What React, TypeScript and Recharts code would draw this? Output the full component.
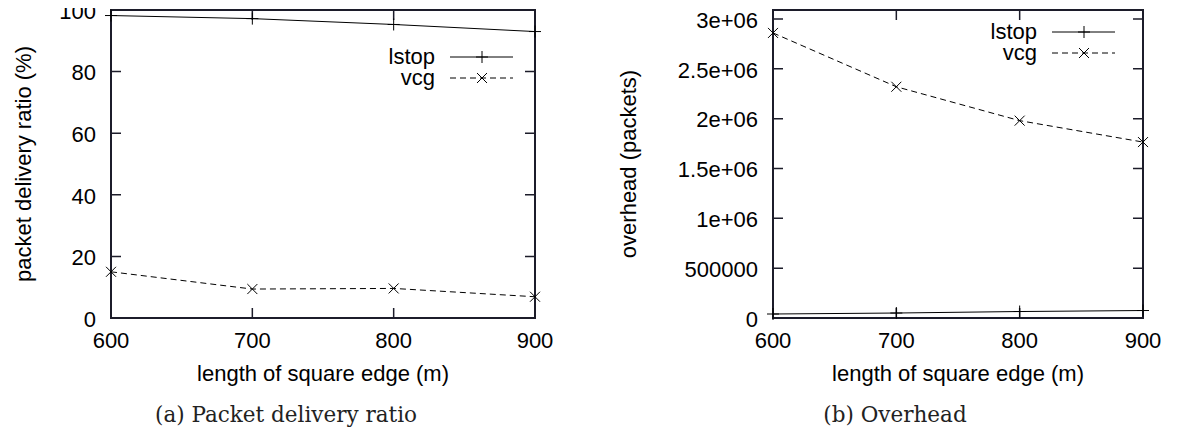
import React from 'react';
import { LineChart, Line, XAxis, YAxis, Customized } from 'recharts';

// ---- data ----
const edgeLengths = [600, 700, 800, 900];
const pdrLstop = [98.2, 97.2, 95.3, 93.0];
const pdrVcg = [15.0, 9.4, 9.6, 6.9];
const overheadLstop = [40000, 50000, 65000, 75000];
const overheadVcg = [2860000, 2320000, 1980000, 1765000];
const pdrTicks = [0, 20, 40, 60, 80, 100];
const overheadTicks = [0, 500000, 1000000, 1500000, 2000000, 2500000, 3000000];
const overheadTickLabels = ['0', '500000', '1e+06', '1.5e+06', '2e+06', '2.5e+06', '3e+06'];
const seriesNames = ['lstop', 'vcg'];
const xTitle = 'length of square edge (m)';
const pdrTitle = 'packet delivery ratio (%)';
const overheadTitle = 'overhead (packets)';
const captions = ['(a) Packet delivery ratio', '(b) Overhead'];

const pdrData = edgeLengths.map((x, i) => ({ x, lstop: pdrLstop[i], vcg: pdrVcg[i] }));
const overheadData = edgeLengths.map((x, i) => ({ x, lstop: overheadLstop[i], vcg: overheadVcg[i] }));

const SANS = '"Liberation Sans", Arial, Helvetica, sans-serif';
const SERIF = '"DejaVu Serif", "Liberation Serif", serif';
const FS = 22;
const TICK_LEN = 10;
const CHART_H = 432;
const X_AXIS_H = 30;
const X_DOMAIN = [600, 900];
const FRAME = '#1c1c2a';

const PlusMark = ({ cx, cy }: { cx: number; cy: number }) => (
  <g>
    <line x1={cx - 6} x2={cx + 6} y1={cy} y2={cy} stroke="#000" strokeWidth={1} />
    <line x1={cx} x2={cx} y1={cy - 6} y2={cy + 6} stroke="#000" strokeWidth={1} />
  </g>
);
const CrossMark = ({ cx, cy }: { cx: number; cy: number }) => (
  <g>
    <line x1={cx - 5} x2={cx + 5} y1={cy - 5} y2={cy + 5} stroke="#000" strokeWidth={1} />
    <line x1={cx - 5} x2={cx + 5} y1={cy + 5} y2={cy - 5} stroke="#000" strokeWidth={1} />
  </g>
);

const plusDot = (p: any) => (p.cx == null ? <g key={`p${p.index}`} /> : <g key={`p${p.index}`}><PlusMark cx={p.cx} cy={p.cy} /></g>);
const crossDot = (p: any) => (p.cx == null ? <g key={`c${p.index}`} /> : <g key={`c${p.index}`}><CrossMark cx={p.cx} cy={p.cy} /></g>);

// frame, mirrored inward ticks, legend and texts drawn on the chart surface
const Overlay = ({ box, yDomain, yTicks, legend, yTitle, titleDist, caption, captionX }: any) => {
  const { left, top, w, h } = box;
  const px = (v: number) => left + ((v - X_DOMAIN[0]) / (X_DOMAIN[1] - X_DOMAIN[0])) * w;
  const py = (v: number) => top + h - ((v - yDomain[0]) / (yDomain[1] - yDomain[0])) * h;
  const [lx, ly] = legend;
  const ytx = left - titleDist;
  const yty = top + h / 2;
  let tickPath = '';
  edgeLengths.forEach((v) => {
    tickPath += `M${px(v)},${top + h}v${-TICK_LEN}M${px(v)},${top}v${TICK_LEN}`;
  });
  yTicks.forEach((v: number) => {
    tickPath += `M${left},${py(v)}h${TICK_LEN}M${left + w},${py(v)}h${-TICK_LEN}`;
  });
  return (
    <g>
      <path d={`M${left},${top}H${left + w}V${top + h}H${left}Z`} fill="none" stroke={FRAME} strokeWidth={2} />
      <path d={tickPath} fill="none" stroke={FRAME} strokeWidth={1.5} />
      <text x={lx} y={ly + 7} textAnchor="end" fontFamily={SANS} fontSize={FS} fill="#000">{seriesNames[0]}</text>
      <line x1={lx + 15} x2={lx + 78} y1={ly} y2={ly} stroke="#000" strokeWidth={1} />
      <PlusMark cx={lx + 47} cy={ly} />
      <text x={lx} y={ly + 21 + 7} textAnchor="end" fontFamily={SANS} fontSize={FS} fill="#000">{seriesNames[1]}</text>
      <line x1={lx + 15} x2={lx + 78} y1={ly + 21} y2={ly + 21} stroke="#000" strokeWidth={1} strokeDasharray="6 4" />
      <CrossMark cx={lx + 47} cy={ly + 21} />
      <text x={ytx} y={yty} transform={`rotate(-90 ${ytx} ${yty})`} textAnchor="middle" dominantBaseline="central" fontFamily={SANS} fontSize={FS} fill="#000">
        {yTitle}
      </text>
      <text x={left + w / 2} y={381} textAnchor="middle" fontFamily={SANS} fontSize={FS} fill="#000">{xTitle}</text>
      <text x={captionX} y={422} textAnchor="middle" fontFamily={SERIF} fontSize={21.5} fill="#222">{caption}</text>
    </g>
  );
};

const BottomTick = (p: any) => (
  <text x={p.x} y={p.y + 14} dy="0.71em" textAnchor="middle" fontFamily={SANS} fontSize={FS} fill="#000">
    {p.payload.value}
  </text>
);
const makeLeftTick = (fmt: (v: number) => string) => (p: any) => (
  <text x={p.x - 15} y={p.y + 1} dy="0.355em" textAnchor="end" fontFamily={SANS} fontSize={FS} fill="#000">
    {fmt(p.payload.value)}
  </text>
);

const fmtOverhead = (v: number) => {
  const i = overheadTicks.indexOf(v);
  return i >= 0 ? overheadTickLabels[i] : String(v);
};

const Panel = ({ data, yDomain, yTicks, yFmt, yTitle, yAxisWidth, titleDist, width, margin, legend, caption, captionX }: any) => {
  const plotW = width - margin.left - margin.right - yAxisWidth;
  const plotH = CHART_H - margin.top - margin.bottom - X_AXIS_H;
  const box = { left: margin.left + yAxisWidth, top: margin.top, w: plotW, h: plotH };
  return (
    <LineChart width={width} height={CHART_H} data={data} margin={margin}>
      <XAxis
        dataKey="x"
        type="number"
        domain={X_DOMAIN}
        ticks={edgeLengths}
        height={X_AXIS_H}
        axisLine={false}
        tickLine={false}
        tickSize={0}
        tickMargin={0}
        tick={BottomTick}
      />
      <YAxis
        type="number"
        domain={yDomain}
        ticks={yTicks}
        width={yAxisWidth}
        axisLine={false}
        tickLine={false}
        tickSize={0}
        tickMargin={0}
        tick={makeLeftTick(yFmt)}
      />
      <Customized
        component={
          <Overlay
            box={box}
            yDomain={yDomain}
            yTicks={yTicks}
            legend={legend}
            yTitle={yTitle}
            titleDist={titleDist}
            caption={caption}
            captionX={captionX}
          />
        }
      />
      <Line dataKey="lstop" name={seriesNames[0]} stroke="#000" strokeWidth={1} dot={plusDot} isAnimationActive={false} />
      <Line dataKey="vcg" name={seriesNames[1]} stroke="#000" strokeWidth={1} strokeDasharray="6 4" dot={crossDot} isAnimationActive={false} />
    </LineChart>
  );
};

export default function App() {
  return (
    <div style={{ margin: '-8px 0 0 -8px', width: 1183, height: 432, display: 'flex' }}>
      <Panel
        data={pdrData}
        yDomain={[0, 100]}
        yTicks={pdrTicks}
        yFmt={(v: number) => String(v)}
        yTitle={pdrTitle}
        yAxisWidth={60}
        titleDist={88}
        width={590}
        margin={{ top: 10, right: 55, bottom: 84, left: 51 }}
        legend={[435, 57]}
        caption={captions[0]}
        captionX={286}
      />
      <Panel
        data={overheadData}
        yDomain={[0, 3090000]}
        yTicks={overheadTicks}
        yFmt={fmtOverhead}
        yTitle={overheadTitle}
        yAxisWidth={100}
        titleDist={145}
        width={593}
        margin={{ top: 10, right: 40, bottom: 84, left: 83 }}
        legend={[447, 32]}
        caption={captions[1]}
        captionX={305}
      />
    </div>
  );
}
